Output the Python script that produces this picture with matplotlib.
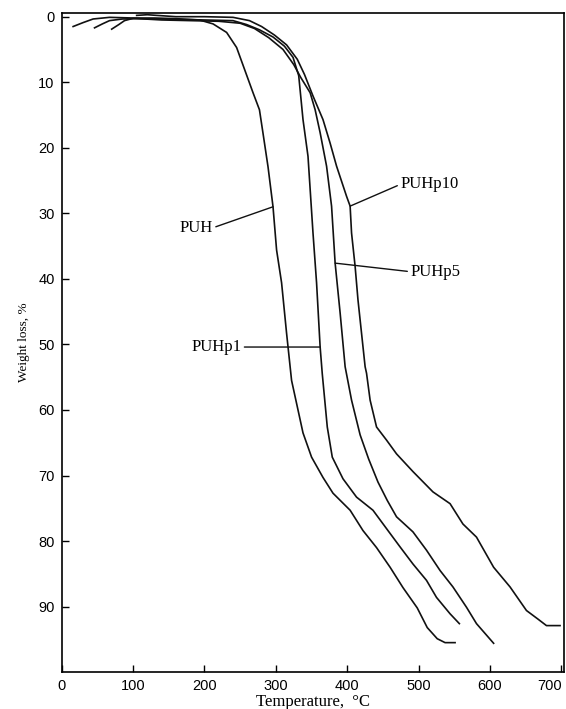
import matplotlib
matplotlib.use("Agg")
import matplotlib.pyplot as plt

# TGA curves: temperature (C) and weight loss (%)
puh_t = [16, 30, 44, 67, 100, 130, 160, 193, 212, 231, 245, 254, 268, 277, 282, 289, 296, 301,
         308, 315, 322, 331, 338, 350, 366, 380, 404, 422, 441, 460, 478, 498, 512, 526, 537, 551]
puh_w = [1.5, 0.9, 0.35, 0.1, 0.2, 0.2, 0.3, 0.5, 1.1, 2.4, 4.7, 7.4, 11.6, 14.2, 17.8, 22.9, 29.0, 35.6,
         40.6, 48.3, 55.5, 60.0, 63.5, 67.2, 70.3, 72.7, 75.3, 78.4, 81.0, 84.0, 87.1, 90.2, 93.2, 94.9, 95.5, 95.5]

p1_t = [46, 57, 67, 85, 105, 160, 200, 240, 259, 277, 296, 312, 324, 332, 338, 345, 352, 357,
        362, 365, 372, 379, 394, 413, 436, 457, 474, 492, 511, 525, 544, 557]
p1_w = [1.7, 1.1, 0.6, 0.35, 0.3, 0.4, 0.5, 0.6, 1.2, 2.0, 3.1, 4.5, 6.2, 9.0, 15.7, 21.3, 33.0, 40.6,
        50.4, 54.5, 62.6, 67.2, 70.5, 73.3, 75.3, 78.4, 80.9, 83.5, 86.0, 88.6, 91.1, 92.6]

p5_t = [70, 80, 88, 100, 140, 180, 220, 250, 270, 290, 310, 325, 335, 348, 355, 362, 371, 378,
        383, 390, 397, 406, 418, 430, 443, 456, 469, 492, 511, 530, 548, 567, 581, 605]
p5_w = [1.9, 1.2, 0.6, 0.25, 0.5, 0.6, 0.7, 1.0, 1.8, 3.2, 5.0, 7.3, 9.3, 11.6, 14.2, 17.7, 22.8, 28.9,
        37.6, 45.2, 53.4, 58.5, 63.8, 67.5, 71.0, 73.8, 76.3, 78.6, 81.4, 84.5, 87.0, 90.1, 92.6, 95.6]

p10_t = [105, 120, 133, 160, 200, 240, 263, 280, 298, 315, 330, 340, 352, 366, 376, 385, 399, 404,
         406, 411, 415, 420, 425, 427, 432, 441, 455, 469, 492, 520, 544, 562, 581, 605, 628, 651,
         667, 679, 698]
p10_w = [-0.2, -0.3, -0.2, 0.0, 0.0, 0.1, 0.6, 1.5, 2.8, 4.3, 6.5, 8.8, 12.1, 15.7, 19.3, 22.8, 27.4, 28.9,
         33.0, 38.1, 43.2, 48.3, 53.4, 54.4, 58.5, 62.6, 64.6, 66.7, 69.4, 72.5, 74.3, 77.4, 79.4, 84.0, 87.0, 90.6,
         91.9, 92.9, 92.9]

xticks = [0, 100, 200, 300, 400, 500, 600, 700]
yticks = [0, 10, 20, 30, 40, 50, 60, 70, 80, 90]

fig = plt.figure(figsize=(5.66, 7.09), dpi=100)
ax = fig.add_axes([0.109, 0.052, 0.888, 0.930])

for t, w in [(puh_t, puh_w), (p1_t, p1_w), (p5_t, p5_w), (p10_t, p10_w)]:
    ax.plot(t, w, color='#111111', lw=1.2)

ax.set_xlim(0, 704)
ax.set_ylim(100, -0.6)
ax.set_xticks(xticks)
ax.set_yticks(yticks)
ax.tick_params(direction='in', length=5, width=1, labelsize=10.5, pad=5)
for lab in ax.get_xticklabels() + ax.get_yticklabels():
    lab.set_family('Liberation Sans')
# last label sits against the right edge, as in the scan
ax.get_xticklabels()[-1].set_ha('right')
for s in ax.spines.values():
    s.set_linewidth(1.2)

ax.set_xlabel('Temperature,  \u00b0C', family='Liberation Serif', fontsize=12, labelpad=1)
ax.set_ylabel('Weight loss, %', family='Liberation Serif', fontsize=9.5, labelpad=6)

# curve labels with leader lines
lead = dict(arrowstyle='-', lw=1.0, color='#111111', shrinkA=0, shrinkB=0)
ax.annotate('PUH', xy=(296, 29.0), xytext=(212, 32.2), ha='right', va='center',
            family='Liberation Serif', fontsize=12, arrowprops=dict(lead, relpos=(1, 0.5)))
ax.annotate('PUHp1', xy=(362, 50.4), xytext=(252, 50.4), ha='right', va='center',
            family='Liberation Serif', fontsize=12, arrowprops=dict(lead, relpos=(1, 0.5)))
ax.annotate('PUHp5', xy=(383, 37.6), xytext=(488, 38.9), ha='left', va='center',
            family='Liberation Serif', fontsize=12, arrowprops=dict(lead, relpos=(0, 0.5)))
ax.annotate('PUHp10', xy=(404, 28.9), xytext=(474, 25.6), ha='left', va='center',
            family='Liberation Serif', fontsize=12, arrowprops=dict(lead, relpos=(0, 0.5)))

fig.savefig('out.png', dpi=100)
